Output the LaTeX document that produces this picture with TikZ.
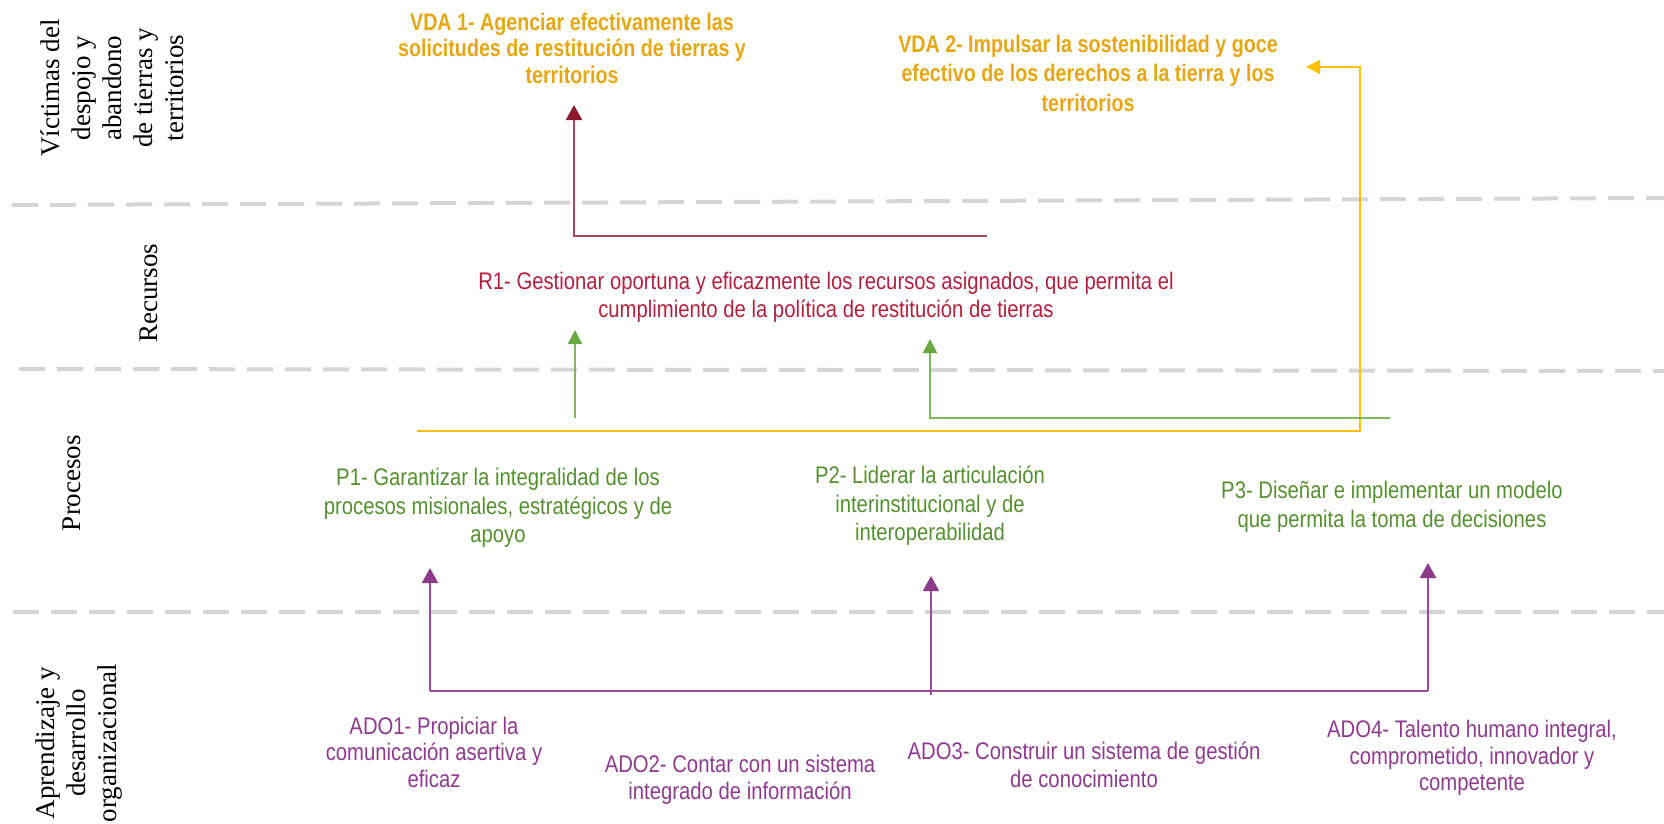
\documentclass[tikz,border=0pt]{standalone}
\usepackage{fontspec}
\usetikzlibrary{arrows.meta}
\newfontfamily\narrowfont{Liberation Sans}[FakeStretch=0.845]
\newfontfamily\narrowboldfont{Liberation Sans Bold}[FakeStretch=0.82]
\newfontfamily\seriffont{Liberation Serif}
\definecolor{gold}{HTML}{E5A712}
\definecolor{ylw}{HTML}{FFC000}
\definecolor{rtext}{HTML}{B0213F}
\definecolor{rline}{HTML}{A84A5C}
\definecolor{rhead}{HTML}{8C1A2E}
\definecolor{gline}{HTML}{7DB85A}
\definecolor{ghead}{HTML}{6AA845}
\definecolor{gtext}{HTML}{55902E}
\definecolor{pline}{HTML}{9A4A98}
\definecolor{phead}{HTML}{8A3A88}
\definecolor{ptext}{HTML}{8E3A8E}
\definecolor{sepgray}{HTML}{D5D5D5}
\begin{document}
\begin{tikzpicture}[x=1pt,y=-1pt,
  sepline/.style={sepgray, line width=4pt, dash pattern=on 26pt off 12pt},
  lanelabel/.style={rotate=90, align=center, inner sep=0pt, font=\seriffont\fontsize{27}{31}\selectfont},
  goaltxt/.style={align=center, inner sep=0pt},
  fs/.style={font=\narrowfont\fontsize{24}{#1}\selectfont},
  fsb/.style={font=\narrowboldfont\fontsize{24}{#1}\selectfont},
  redarrow/.style={rline, line width=2pt, -{Triangle[width=16pt,length=15pt,color=rhead]}},
  ylwarrow/.style={ylw, line width=1.6pt, -{Triangle[width=14pt,length=14pt,color=ylw]}},
  grnarrow/.style={gline, line width=1.8pt, -{Triangle[width=14pt,length=14pt,color=ghead]}},
  purarrow/.style={pline, line width=2pt, -{Triangle[width=16pt,length=15pt,color=phead]}},
  purline/.style={pline, line width=2pt}
]
\useasboundingbox (0,0) rectangle (1664,823);

% separators
\draw[sepline] (12,205) -- (1664,198);
\draw[sepline] (19,369) -- (1664,371);
\draw[sepline] (13,612) -- (1664,612);

% lane labels
\node[lanelabel] (lv) at (112,88) {Víctimas del\\despojo y\\abandono\\de tierras y\\territorios};
\node[lanelabel] (lr) at (149,293) {Recursos};
\node[lanelabel] (lp) at (72,483) {Procesos};
\node[lanelabel] (la) at (79,743) {Aprendizaje y\\desarrollo\\organizacional};

% goals
\node[goaltxt, fsb=26.5, text=gold] (vda1) at (572,48) {VDA 1- Agenciar efectivamente las\\solicitudes de restitución de tierras y\\territorios};
\node[goaltxt, fsb=29.5, text=gold] (vda2) at (1088,73) {VDA 2- Impulsar la sostenibilidad y goce\\efectivo de los derechos a la tierra y los\\territorios};
\node[goaltxt, fs=28, text=rtext] (r1) at (826,297) {R1- Gestionar oportuna y eficazmente los recursos asignados, que permita el\\cumplimiento de la política de restitución de tierras};
\node[goaltxt, fs=28.5, text=gtext] (p1) at (498,508) {P1- Garantizar la integralidad de los\\procesos misionales, estratégicos y de\\apoyo};
\node[goaltxt, fs=28.5, text=gtext] (p2) at (930,506) {P2- Liderar la articulación\\interinstitucional y de\\interoperabilidad};
\node[goaltxt, fs=29, text=gtext] (p3) at (1392,507) {P3- Diseñar e implementar un modelo\\que permita la toma de decisiones};
\node[goaltxt, fs=26.5, text=ptext] (a1) at (434,752) {ADO1- Propiciar la\\comunicación asertiva y\\eficaz};
\node[goaltxt, fs=27, text=ptext] (a2) at (740,780) {ADO2- Contar con un sistema\\integrado de información};
\node[goaltxt, fs=28, text=ptext] (a3) at (1084,765) {ADO3- Construir un sistema de gestión\\de conocimiento};
\node[goaltxt, fs=26.5, text=ptext] (a4) at (1472,758) {ADO4- Talento humano integral,\\comprometido, innovador y\\competente};

% connector points
\coordinate (rstart) at (987,236);
\coordinate (vda1tip) at (574,105);
\coordinate (ystart) at (417,431);
\coordinate (ycorner) at (1360,431);
\coordinate (vda2tip) at (1306,67);
\coordinate (g1start) at (575,418);
\coordinate (g1tip) at (575,330);
\coordinate (g2start) at (1390,418);
\coordinate (g2tip) at (930,339);
\coordinate (pL) at (430,691);
\coordinate (pR) at (1428,691);
\coordinate (pM) at (931,695);
\coordinate (p1tip) at (430,568);
\coordinate (p2tip) at (931,576);
\coordinate (p3tip) at (1428,563);

% connectors
\draw[redarrow] (rstart) -| (vda1tip);
\draw[ylwarrow] (ystart) -- (ycorner) |- (vda2tip);
\draw[grnarrow] (g1start) -- (g1tip);
\draw[grnarrow] (g2start) -| (g2tip);
\draw[purline] (pL) -- (pR);
\draw[purarrow] (pL) -- (p1tip);
\draw[purarrow] (pM) -- (p2tip);
\draw[purarrow] (pR) -- (p3tip);
\end{tikzpicture}
\end{document}
